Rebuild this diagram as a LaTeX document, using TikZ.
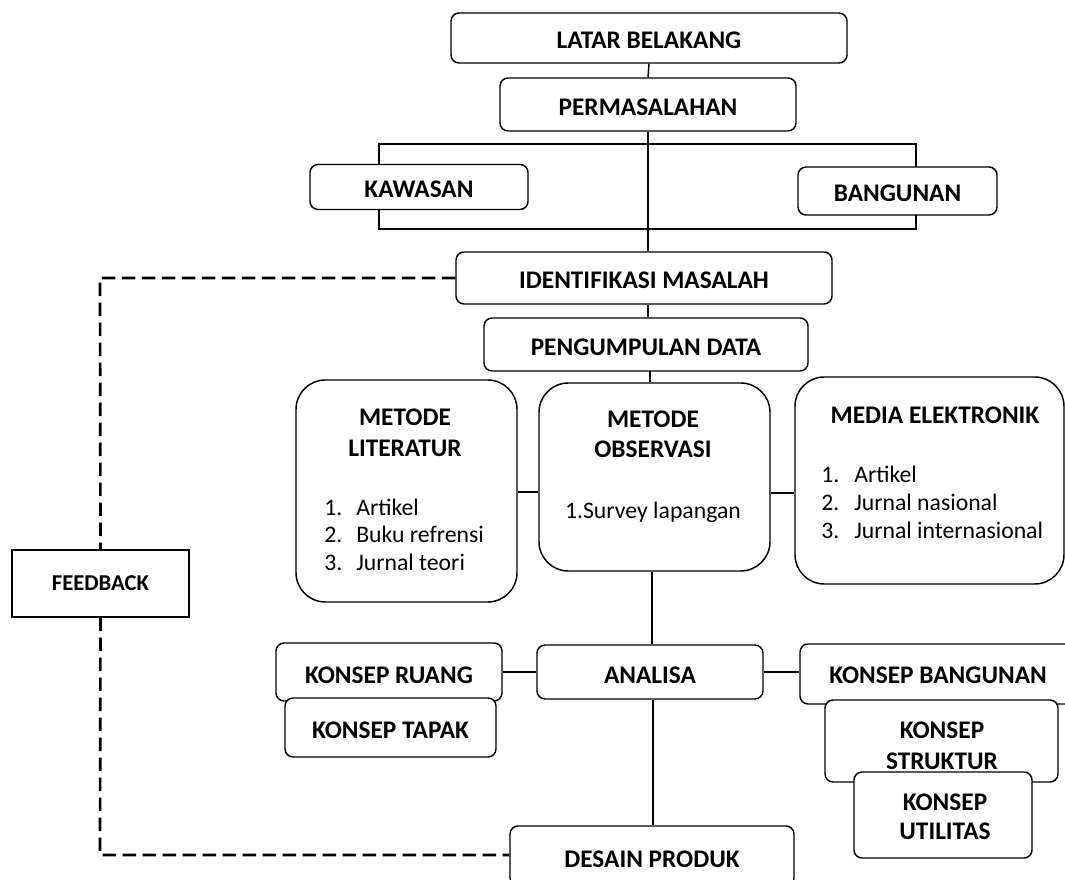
\documentclass[tikz,border=0pt]{standalone}
\usepackage{fontspec}
\setmainfont{Carlito}
\usepackage{tikz}
\usetikzlibrary{positioning, calc}

\tikzset{
  ukuran/.style 2 args={minimum width=#1*0.75pt, minimum height=#2*0.75pt},
  kotak/.style={draw, rounded corners=6pt, fill=white, line width=1.1pt, inner sep=0pt,
                text height=16.5pt, text depth=0pt,
                font=\bfseries\fontsize{19}{23}\selectfont},
  kotakbesar/.style={kotak, rounded corners=22pt},
  judul/.style={inner sep=0pt, font=\bfseries\fontsize{19}{23}\selectfont},
  butir/.style={inner sep=0pt, anchor=west, text height=1.6ex, text depth=0pt,
                font=\fontsize{17.8}{21}\selectfont},
  garis/.style={line width=1.1pt},
  putus/.style={line width=2pt, dash pattern=on 10pt off 5pt}
}

\begin{document}
\begin{tikzpicture}[x=0.75pt, y=-0.75pt]
  \useasboundingbox (0,0) rectangle (1065,880);
  \clip (0,0) rectangle (1065,880);
  % Bagian atas
  \node[kotak, ukuran={396}{50}] (latar) at (649,38) {LATAR BELAKANG};
  \node[kotak, ukuran={296}{53}] (masalah) at (648,104.5) {PERMASALAHAN};
  \draw[garis] (379,144) rectangle (916,229);
  \node[kotak, ukuran={218}{45}] (kawasan) at (419,187) {KAWASAN};
  \node[kotak, ukuran={199}{48}] (bangunan) at (897.5,191) {BANGUNAN};
  \node[kotak, ukuran={376}{52}] (identifikasi) at (644,278) {IDENTIFIKASI MASALAH};
  \node[kotak, ukuran={324}{53}] (pengumpulan) at (646,344.5) {PENGUMPULAN DATA};
  \draw[garis] (latar.south) -- (masalah.north);
  \draw[garis] (masalah.south) -- (masalah.south |- identifikasi.north);
  \draw[garis] (masalah.south |- identifikasi.south) -- (masalah.south |- pengumpulan.north);
  % Metode pengumpulan data
  \node[kotakbesar, ukuran={221}{222}] (literatur) at (406.5,491) {};
  \node[kotakbesar, ukuran={231}{188}] (observasi) at (654.5,477) {};
  \node[kotakbesar, ukuran={269}{207}] (media) at (929.5,480.5) {};
  \draw[garis] (650,371) -- (observasi.north -| 650,0);
  \draw[garis] (literatur.east |- 0,492) -- (observasi.west |- 0,492);
  \draw[garis] (observasi.east |- 0,493) -- (media.west |- 0,493);
  % Isi metode literatur
  \node[judul] (litA) at (405,417) {METODE};
  \node[judul] (litB) at (405,448) {LITERATUR};
  \foreach \i/\isi in {1/Artikel, 2/Buku refrensi, 3/Jurnal teori} {
    \node[butir] (litno\i) at (324,{510+27.5*(\i-1)}) {\i.};
    \node[butir] (lit\i) at (356,{510+27.5*(\i-1)}) {\isi};
  }
  % Isi metode observasi
  \node[judul] (obsA) at (653,419) {METODE};
  \node[judul] (obsB) at (653,449) {OBSERVASI};
  \node[butir, anchor=center] (obs1) at (653,513) {1.Survey lapangan};
  % Isi media elektronik
  \node[judul] (medA) at (935,415) {MEDIA ELEKTRONIK};
  \foreach \i/\isi in {1/Artikel, 2/Jurnal nasional, 3/Jurnal internasional} {
    \node[butir] (medno\i) at (821,{477+28*(\i-1)}) {\i.};
    \node[butir] (med\i) at (854,{477+28*(\i-1)}) {\isi};
  }
  % Analisa dan konsep
  \node[kotak, ukuran={226}{54}] (analisa) at (650,672) {ANALISA};
  \node[kotak, ukuran={226}{58}] (ruang) at (389,672) {KONSEP RUANG};
  \node[kotak, ukuran={211}{59}] (tapak) at (390.5,727.5) {KONSEP TAPAK};
  \node[kotak, ukuran={284}{60}] (kbangunan) at (942,674) {};
  \node[judul] (kbangunanT) at (938,675) {KONSEP BANGUNAN};
  \node[kotak, ukuran={233}{82}] (struktur) at (941.5,741) {};
  \node[judul] (strukturA) at (942,730) {KONSEP};
  \node[judul] (strukturB) at (942,761) {STRUKTUR};
  \node[kotak, ukuran={178}{86}] (utilitas) at (943,815) {};
  \node[judul] (utilitasA) at (945,802) {KONSEP};
  \node[judul] (utilitasB) at (945,831) {UTILITAS};
  \node[kotak, ukuran={284}{60}] (desain) at (652,856) {DESAIN PRODUK};
  \draw[garis] (observasi.south -| 652,0) -- (analisa.north -| 652,0);
  \draw[garis] (ruang.east) -- (analisa.west);
  \draw[garis] (analisa.east) -- (kbangunan.west |- analisa.east);
  \draw[garis] (analisa.south -| 653,0) -- (desain.north -| 653,0);
  % Feedback
  \node[draw, line width=1.1pt, ukuran={177}{67}, inner sep=0pt,
        font=\bfseries\fontsize{17}{20}\selectfont] (feedback) at (100.5,583.5) {FEEDBACK};
  \draw[putus] (identifikasi.west) -- (100,278) -- (feedback.north);
  \draw[putus] (feedback.south) -- (100,855) -- (desain.west |- 0,855);
\end{tikzpicture}
\end{document}
